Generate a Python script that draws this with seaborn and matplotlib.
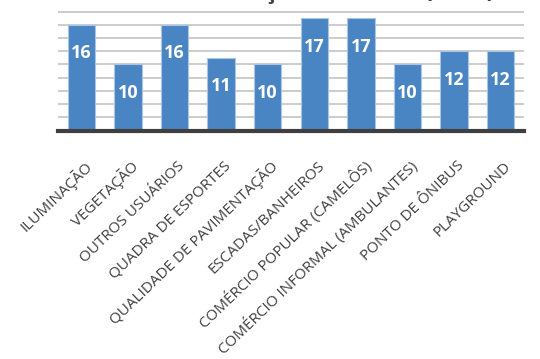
import matplotlib
matplotlib.use("Agg")
import matplotlib.pyplot as plt
import matplotlib.transforms as mtransforms
import seaborn as sns

categories = ["ILUMINAÇÃO", "VEGETAÇÃO", "OUTROS USUÁRIOS", "QUADRA DE ESPORTES",
              "QUALIDADE DE PAVIMENTAÇÃO", "ESCADAS/BANHEIROS",
              "COMÉRCIO POPULAR (CAMELÔS)", "COMÉRCIO INFORMAL (AMBULANTES)",
              "PONTO DE ÔNIBUS", "PLAYGROUND"]
values = [16, 10, 16, 11, 10, 17, 17, 10, 12, 12]
grid_ticks = [2, 4, 6, 8, 10, 12, 14, 16, 18]
title = "Avaliação dos Itens (2019)"

sns.set_theme(style="white")
plt.rcParams['font.family'] = ['Open Sans', 'DejaVu Sans']

fig = plt.figure(figsize=(5.4, 3.59), dpi=100)
ax = fig.add_axes([58/540, 1 - 130.5/359, (524-58)/540, 130.5/359])

sns.barplot(x=categories, y=values, color="#4a85c3", saturation=1, width=0.59,
            edgecolor="#a9c4e4", linewidth=0.8, ax=ax, zorder=3)

ax.set_ylim(0, 19.77)
ax.set_xlim(-0.5, 9.5)
ax.set_yticks(grid_ticks)
ax.yaxis.grid(True, color="#c4c4c4", linewidth=1.2, zorder=0)
ax.set_axisbelow(True)
ax.tick_params(axis='y', left=False, labelleft=False)
ax.tick_params(axis='x', bottom=False, pad=18, labelsize=11, labelcolor="#404040")
for s in ["top", "right", "left"]:
    ax.spines[s].set_visible(False)
ax.spines["bottom"].set_color("#3f3f3f")
ax.spines["bottom"].set_linewidth(3)
ax.spines["bottom"].set_zorder(4)
ax.set_xlabel("")
ax.set_ylabel("")

shift = mtransforms.ScaledTranslation(8/100, 0, fig.dpi_scale_trans)
for lab in ax.get_xticklabels():
    lab.set_rotation(44)
    lab.set_ha("right")
    lab.set_va("center")
    lab.set_rotation_mode("anchor")
    lab.set_transform(lab.get_transform() + shift)

for i, v in enumerate(values):
    ax.annotate(str(v), xy=(i, v), xytext=(0, -24), textcoords="offset points",
                ha="center", va="baseline", color="white", fontsize=13,
                fontweight="bold", zorder=5)

fig.text(495/540, 1 + 2/359, title, ha="right", va="baseline", fontsize=17,
         fontweight="bold", color="#404040")

fig.savefig("out.png", dpi=100)
